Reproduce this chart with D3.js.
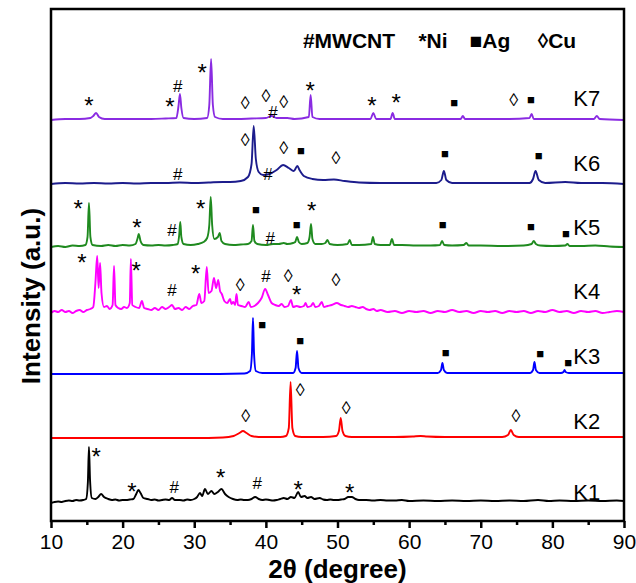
<!DOCTYPE html>
<html>
<head>
<meta charset="utf-8">
<script src="https://cdn.jsdelivr.net/npm/d3@7"></script>
<style>
  body { margin: 0; background: #fff; }
  text { font-family: Arial, "Liberation Sans", sans-serif; }
</style>
</head>
<body>
<div id="chart"></div>
<script>
// sample names, colours and offsets (stacked baseline, a.u.)
const samples = ["K1", "K2", "K3", "K4", "K5", "K6", "K7"];
const colors = ["#000000", "#ff0000", "#0000ff", "#ff00ff", "#1f8a1f", "#1c1c8c", "#8a2be2"];
const offsets = [19, 83, 147, 208, 274, 337, 401];
const labelHeights = [10, 17, 18, 22, 20, 21, 22];

// patterns: [2theta, intensity above own baseline]
const K1 = [[10,-1],[10.5,0],[11,0.5],[11.5,0],[12,1],[12.5,1.5],[13,1],[13.5,2],[14,1.5],[14.5,2],[14.9,3],[15.15,20],[15.3,55],[15.45,22],[15.7,4],[16.2,3],[16.6,5],[17.0,8],[17.4,5],[18,3],[18.5,2],[19,2.5],[19.5,1.5],[20,2],[20.5,2],[21,2.5],[21.5,3],[21.9,8],[22.2,12],[22.5,9],[22.9,4],[23.5,3],[24,2],[24.5,2.5],[25,1.5],[25.5,2],[26,2.5],[26.5,2],[26.9,4],[27.3,2],[28,2],[28.5,1.5],[29,2.5],[29.5,2],[30,3],[30.4,5],[30.8,9],[31.1,6],[31.5,13],[31.9,8],[32.4,11],[32.8,8],[33.3,10],[33.8,13],[34.3,8],[34.8,5],[35.4,3],[36,2],[36.5,2.5],[37,2],[37.5,2],[38,3],[38.5,5],[39,3],[39.5,2],[40,2.5],[40.5,2],[41,1.5],[41.5,2],[42,3],[42.5,4],[43,3],[43.5,5],[44.0,4],[44.5,10],[44.9,5],[45.4,6],[45.8,4],[46.3,5],[46.8,3],[47.5,4],[48,2.5],[48.5,2],[49,2.5],[49.5,2],[50,2],[50.5,2.5],[51,3],[51.5,5],[52,5],[52.5,3],[53,2],[54,2],[55,1.5],[56,2],[57,1.5],[58,1.5],[59,2],[60,1],[62,1.5],[64,1],[66,1.5],[68,1],[70,1.5],[72,1],[74,1.5],[76,1],[78,2],[79.5,1],[81,1.5],[83,1],[85,1.5],[87,1],[89,1.5],[90,1]];
const K2 = [[10,0],[20,0],[30,0],[34,0.5],[35.5,2],[36.3,5],[36.8,7],[37.3,5],[38,2],[39,1],[42,1],[42.8,2],[43.2,10],[43.45,56],[43.7,10],[44.1,2],[45,1],[48,1],[49.8,2],[50.2,7],[50.45,20],[50.7,7],[51.1,2],[52,1],[58,1],[60.5,1.5],[61.6,2],[62.5,1.5],[65,1],[73,1],[73.8,3],[74.2,8],[74.6,3],[75.3,1],[80,1],[90,1]];
const K3 = [[10,0],[30,0],[37,0.5],[37.8,3],[38.05,20],[38.2,56],[38.35,20],[38.6,3],[39.5,1],[43.8,1],[44.15,6],[44.35,23],[44.55,6],[45,1],[64,1],[64.45,4],[64.65,11],[64.85,4],[65.3,1],[76.9,1],[77.3,4],[77.5,12],[77.7,4],[78.2,1],[81.2,1],[81.55,2],[81.7,4],[81.85,2],[82.3,1],[90,1]];
const K4 = [[10,0],[10.5,2],[11,1],[11.5,3],[12,1],[12.5,2],[13,0],[13.5,2],[14,3],[14.5,1],[15,3],[15.5,4],[15.9,6],[16.2,30],[16.45,57],[16.65,25],[16.85,50],[17.05,20],[17.4,6],[17.8,7],[18.2,4],[18.6,8],[18.8,47],[19.0,8],[19.4,5],[19.8,4],[20.2,6],[20.6,5],[21.0,10],[21.15,54],[21.35,8],[21.8,6],[22.3,5],[22.7,12],[23.0,5],[23.5,4],[24,3],[24.5,5],[25,3],[25.5,6],[26,4],[26.5,6],[26.9,8],[27.3,4],[27.8,5],[28.3,3],[28.8,6],[29.3,4],[29.8,7],[30.3,8],[30.7,19],[31.0,10],[31.4,12],[31.75,46],[32.0,20],[32.4,22],[32.75,35],[33.05,25],[33.35,33],[33.6,22],[33.85,19],[34.2,12],[34.6,10],[35.0,14],[35.2,9],[35.45,11],[35.7,8],[35.9,19],[36.1,8],[36.6,7],[37.1,6],[37.6,11],[37.9,6],[38.4,7],[38.9,10],[39.4,15],[39.9,24],[40.3,18],[40.8,10],[41.3,8],[41.8,7],[42.2,9],[42.6,6],[43.1,7],[43.5,13],[43.8,6],[44.3,7],[44.8,6],[45.3,7],[45.55,10],[45.8,6],[46.3,7],[46.6,10],[46.9,6],[47.4,7],[47.8,11],[48.1,6],[48.6,7],[49.2,8],[49.9,10],[50.5,8],[51,7],[51.5,6],[52,7],[52.5,6],[53,5],[53.5,6],[54,4],[54.5,3],[55,4],[55.5,2],[56,3],[57,1],[58,2],[59,0],[60,2],[61,1],[62,2],[63,0],[64,2],[65,1],[66,3],[67,1],[68,2],[69,0],[70,2],[71,1],[72,2],[73,0],[74,2],[75,1],[76,2],[77,0],[78,2],[79,1],[80,3],[81,1],[82,2],[83,0],[84,2],[85,1],[86,2],[87,0],[88,1],[89,2],[90,1]];
const K5 = [[10,0],[11,1],[12,0],[13,1.5],[14,1],[14.8,2],[15.1,10],[15.3,44],[15.5,10],[15.8,2],[17,1],[18,2],[19,1],[20,2],[21,1.5],[21.8,3],[22.1,9],[22.25,13],[22.5,6],[22.9,2],[24,1.5],[25,2],[26,1.5],[27,2],[27.7,3],[27.9,12],[28.05,25],[28.2,10],[28.5,3],[29.5,2],[30.5,3],[31.3,5],[31.8,9],[32.1,22],[32.3,50],[32.5,22],[32.8,8],[33.3,10],[33.55,14],[33.8,6],[34.3,3],[35.5,2],[36.5,2.5],[37.5,3],[38.0,6],[38.2,22],[38.4,6],[38.8,3],[40,2],[41,3],[41.8,3],[42.5,4],[43,3],[43.8,4],[44.1,5],[44.35,10],[44.6,5],[45,3],[45.8,4],[46.1,10],[46.3,23],[46.5,8],[46.9,3],[47.8,3],[48.3,4],[48.6,7],[48.9,3],[50,2],[51.4,3],[51.7,7],[52,2],[53,2],[54.7,3],[54.95,10],[55.2,3],[56,2],[57.3,2],[57.6,8],[57.9,2],[59,2],[61,1.5],[63,1.5],[64.3,2],[64.6,6],[64.9,2],[66,1.5],[67.6,2],[68,4],[68.3,1.5],[70,1.5],[73,1],[76,1.5],[77.1,3],[77.4,6],[77.7,3],[78.3,1.5],[80,1],[81.8,1.5],[82.1,3],[82.4,1],[84,1],[86,1.5],[88,0.5],[90,0]];
const K6 = [[10,0],[12,1],[14,0.5],[16,1],[18,0.5],[20,1],[22,0.5],[24,1],[26,1],[28,1.5],[30,1],[32,1.5],[34,2],[35,2],[36.5,3],[37.5,7],[38.0,20],[38.3,58],[38.6,25],[39,12],[39.6,9],[40.5,10],[41.5,14],[42.4,19],[43.2,16],[43.9,13],[44.4,18],[44.7,14],[45.3,8],[46.5,5],[48,4],[49.5,4.5],[51,3],[53,1.5],[56,1],[60,1],[63.8,1],[64.5,4],[64.85,13],[65.2,4],[66,1],[70,1],[74,1],[76.8,1],[77.3,5],[77.65,13],[78.1,4],[79,1],[81.8,2],[84,1],[87,1],[90,0]];
const K7 = [[10,0],[12,1],[14,1],[15.5,2],[15.9,4],[16.3,7],[16.7,3],[17.5,1],[20,1],[24,1],[26,1.5],[27.5,2],[27.8,14],[28.0,26],[28.2,12],[28.5,2],[30,1],[31.8,2],[32.1,15],[32.35,61],[32.6,15],[32.9,3],[34,1],[36,1],[38,1.5],[40,2],[40.8,4],[41.5,2],[43,2],[44,1],[46.0,3],[46.25,25],[46.5,3],[47.5,1],[50,1],[54.6,1],[55,7],[55.4,1],[57.4,1],[57.7,7],[58.0,1],[62,1],[67.2,1],[67.5,4],[67.8,1],[74,1],[76.8,2],[77.1,6],[77.4,1],[82,1],[85.8,1],[86.2,4],[86.6,1],[90,0]];
const patterns = [K1, K2, K3, K4, K5, K6, K7];

// phase marks: [symbol, 2theta, height above baseline]
const marks1 = [["*",16.3,51],["*",21.3,16],["#",27.2,15],["*",33.7,30],["#",38.8,19],["*",44.5,18],["*",51.7,15]];
const marks2 = [["◊",37.2,22],["◊",44.8,48],["◊",51.2,30],["◊",74.9,22]];
const marks3 = [["■",39.5,50],["■",44.8,34],["■",65.1,22],["■",78.3,21],["■",82.2,12]];
const marks4 = [["*",14.3,56],["*",21.9,48],["#",26.9,23],["*",30.2,45],["◊",36.4,28],["#",40.0,37],["◊",43.1,37],["*",44.3,24],["◊",49.8,33]];
const marks5 = [["*",13.8,44],["*",22.0,25],["#",26.9,17],["*",30.9,44],["■",38.6,38],["#",40.6,9],["■",44.3,23],["*",46.4,42],["■",64.7,23],["■",77.0,21],["■",81.9,14]];
const marks6 = [["#",27.7,10],["◊",37.1,44],["#",40.3,10],["◊",42.5,36],["■",44.9,34],["◊",49.8,26],["■",65.0,31],["■",78.1,29]];
const marks7 = [["*",15.3,20],["*",26.6,19],["#",27.7,34],["*",31.1,53],["◊",37.1,17],["◊",40.0,24],["#",41.0,8],["◊",42.5,18],["*",46.2,35],["*",54.8,20],["*",58.2,23],["■",66.3,18],["◊",74.6,20],["■",77.0,21]];
const marks = [marks1, marks2, marks3, marks4, marks5, marks6, marks7];

const legendItems = ["#MWCNT", "*Ni", "■Ag", "◊Cu"];
const legendPos = [349, 433, 490, 557];

const xTicks = [10, 20, 30, 40, 50, 60, 70, 80, 90];
const xMinor = [15, 25, 35, 45, 55, 65, 75, 85];

const width = 636, height = 583;
const margin = { top: 9, right: 12, bottom: 62, left: 51 };
const iwidth = width - margin.left - margin.right,
  iheight = height - margin.top - margin.bottom;

const svg = d3.select("#chart")
  .append("svg")
  .attr("width", width)
  .attr("height", height);

const g = svg.append("g")
  .attr("transform", `translate(${margin.left},${margin.top})`);

const x = d3.scaleLinear().domain([10, 90]).range([0, iwidth]);
const y = d3.scaleLinear().domain([0, iheight]).range([iheight, 0]);

const line = d3.line()
  .x(d => x(d[0]))
  .y(d => d.yv)
  .curve(d3.curveMonotoneX);

// traces
patterns.forEach((p, i) => {
  const pts = p.map(d => { const o = [d[0], d[1]]; o.yv = y(offsets[i] + d[1]); return o; });
  g.append("path")
    .datum(pts)
    .attr("fill", "none")
    .attr("stroke", colors[i])
    .attr("stroke-width", 1.9)
    .attr("stroke-linejoin", "round")
    .attr("d", line);
});

// phase marks (asterisk glyph sits high, so nudge it down)
marks.forEach((m, i) => {
  g.selectAll(null)
    .data(m)
    .enter()
    .append("text")
    .attr("x", d => x(d[1]))
    .attr("y", d => y(offsets[i] + d[2]))
    .attr("dy", d => d[0] == "*" ? "0.22em" : null)
    .attr("text-anchor", "middle")
    .attr("dominant-baseline", "central")
    .attr("font-size", d => d[0] == "■" ? 13 : d[0] == "◊" ? 18 : d[0] == "*" ? 24 : 17)
    .attr("fill", "#000")
    .text(d => d[0]);
});

// sample labels
samples.forEach((s, i) => {
  g.append("text")
    .attr("x", x(84.8))
    .attr("y", y(offsets[i] + labelHeights[i]))
    .attr("text-anchor", "middle")
    .attr("dominant-baseline", "central")
    .attr("font-size", 22)
    .text(s);
});

// legend
legendItems.forEach((t, i) => {
  svg.append("text")
    .attr("x", legendPos[i])
    .attr("y", 48)
    .attr("text-anchor", "middle")
    .attr("font-size", 21)
    .attr("font-weight", "bold")
    .text(t);
});

// x axis
const xAxis = g.append("g")
  .attr("transform", `translate(0,${iheight})`)
  .call(d3.axisBottom(x).tickValues(xTicks).tickSize(7).tickPadding(6));
xAxis.select(".domain").remove();
xAxis.selectAll("line").attr("stroke-width", 2.5);
xAxis.selectAll("text").attr("font-size", 21).attr("font-family", "Arial, 'Liberation Sans', sans-serif").attr("fill", "#000");

const xAxisMinor = g.append("g")
  .attr("transform", `translate(0,${iheight})`)
  .call(d3.axisBottom(x).tickValues(xMinor).tickSize(4).tickFormat(""));
xAxisMinor.select(".domain").remove();
xAxisMinor.selectAll("line").attr("stroke-width", 2.5);

// frame
g.append("rect")
  .attr("width", iwidth)
  .attr("height", iheight)
  .attr("fill", "none")
  .attr("stroke", "#000")
  .attr("stroke-width", 2.5);

// axis titles
svg.append("text")
  .attr("x", margin.left + iwidth / 2)
  .attr("y", 578)
  .attr("text-anchor", "middle")
  .attr("font-size", 26)
  .attr("font-weight", "bold")
  .text("2θ (degree)");

svg.append("text")
  .attr("transform", "rotate(-90)")
  .attr("x", -296)
  .attr("y", 40)
  .attr("text-anchor", "middle")
  .attr("font-size", 26)
  .attr("font-weight", "bold")
  .text("Intensity (a.u.)");
</script>
</body>
</html>
